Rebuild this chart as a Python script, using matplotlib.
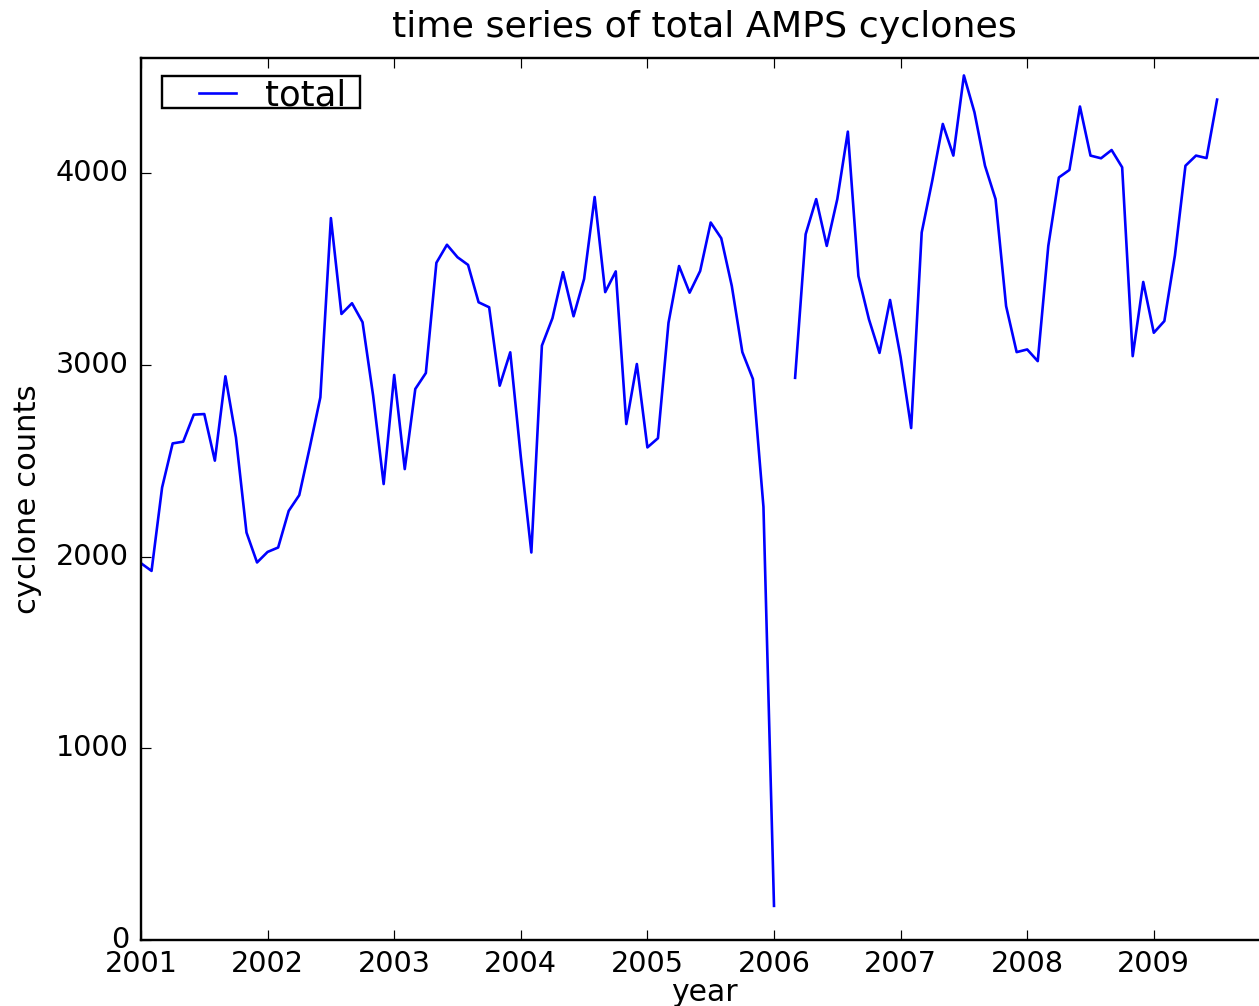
import numpy as np
import matplotlib
matplotlib.use('Agg')
import matplotlib.pyplot as plt
from matplotlib.path import Path

plt.style.use('classic')

# monthly totals of AMPS cyclones, Jan 2001 .. Jul 2009 (Feb 2006 missing)
counts_2001 = [1965, 1925, 2360, 2590, 2599, 2740, 2743, 2500, 2940, 2621, 2125, 1969]
counts_2002 = [2024, 2047, 2238, 2320, 2570, 2830, 3765, 3265, 3321, 3222, 2840, 2378]
counts_2003 = [2947, 2456, 2874, 2957, 3532, 3626, 3561, 3521, 3326, 3300, 2891, 3065]
counts_2004 = [2520, 2021, 3100, 3243, 3483, 3253, 3448, 3875, 3379, 3487, 2691, 3004]
counts_2005 = [2569, 2617, 3219, 3515, 3376, 3489, 3742, 3660, 3411, 3066, 2926, 2259]
counts_2006 = [178, np.nan, 2932, 3681, 3864, 3620, 3864, 4216, 3463, 3237, 3062, 3338]
counts_2007 = [3040, 2670, 3690, 3960, 4256, 4091, 4509, 4317, 4038, 3864, 3306, 3066]
counts_2008 = [3080, 3019, 3620, 3977, 4016, 4347, 4091, 4077, 4120, 4030, 3045, 3432]
counts_2009 = [3167, 3228, 3570, 4038, 4091, 4078, 4383]
start_year = 2001
years = list(range(2001, 2010))

total = np.array(counts_2001 + counts_2002 + counts_2003 + counts_2004 + counts_2005
                 + counts_2006 + counts_2007 + counts_2008 + counts_2009, dtype=float)
t = start_year + np.arange(len(total)) / 12.0


def legend_frame(x0, y0, width, height, mutation_size):
    # old-style legend box: wide on the sides, tight around the text
    left = x0 - 0.74 * mutation_size
    right = x0 + width + 0.40 * mutation_size
    bottom = y0 + 0.12 * mutation_size
    top = y0 + height + 0.09 * mutation_size
    return Path([(left, bottom), (right, bottom), (right, top), (left, top), (left, bottom)],
                closed=True)


dpi = 172
fig = plt.figure(figsize=(1259 / dpi, 1006 / dpi), dpi=dpi, facecolor='white')
ax = fig.add_axes([141 / 1259, 1 - 940 / 1006, 1127.5 / 1259, 882 / 1006])

ax.plot(t, total, 'b-', lw=1.1, label='total')
ax.set_xlim(2001, 2009.906)
ax.set_ylim(0, 4600)
ax.set_xticks(years)
ax.set_xticklabels([str(y) for y in years])
ax.set_yticks([0, 1000, 2000, 3000, 4000])
ax.tick_params(axis='y', pad=5)

ax.set_title('time series of total AMPS cyclones', fontsize=15.25, pad=9)
ax.set_xlabel('year', fontsize=12.5, labelpad=0)
ax.set_ylabel('cyclone counts', fontsize=12.8, labelpad=6)
leg = ax.legend(loc='upper left', fontsize=14.8, borderpad=0, borderaxespad=0,
                bbox_to_anchor=(0.0417, 0.9765), handlelength=1.65, handletextpad=0.52)
leg.get_frame().set_boxstyle(legend_frame)

fig.savefig('out.png', dpi=dpi, facecolor='white')
